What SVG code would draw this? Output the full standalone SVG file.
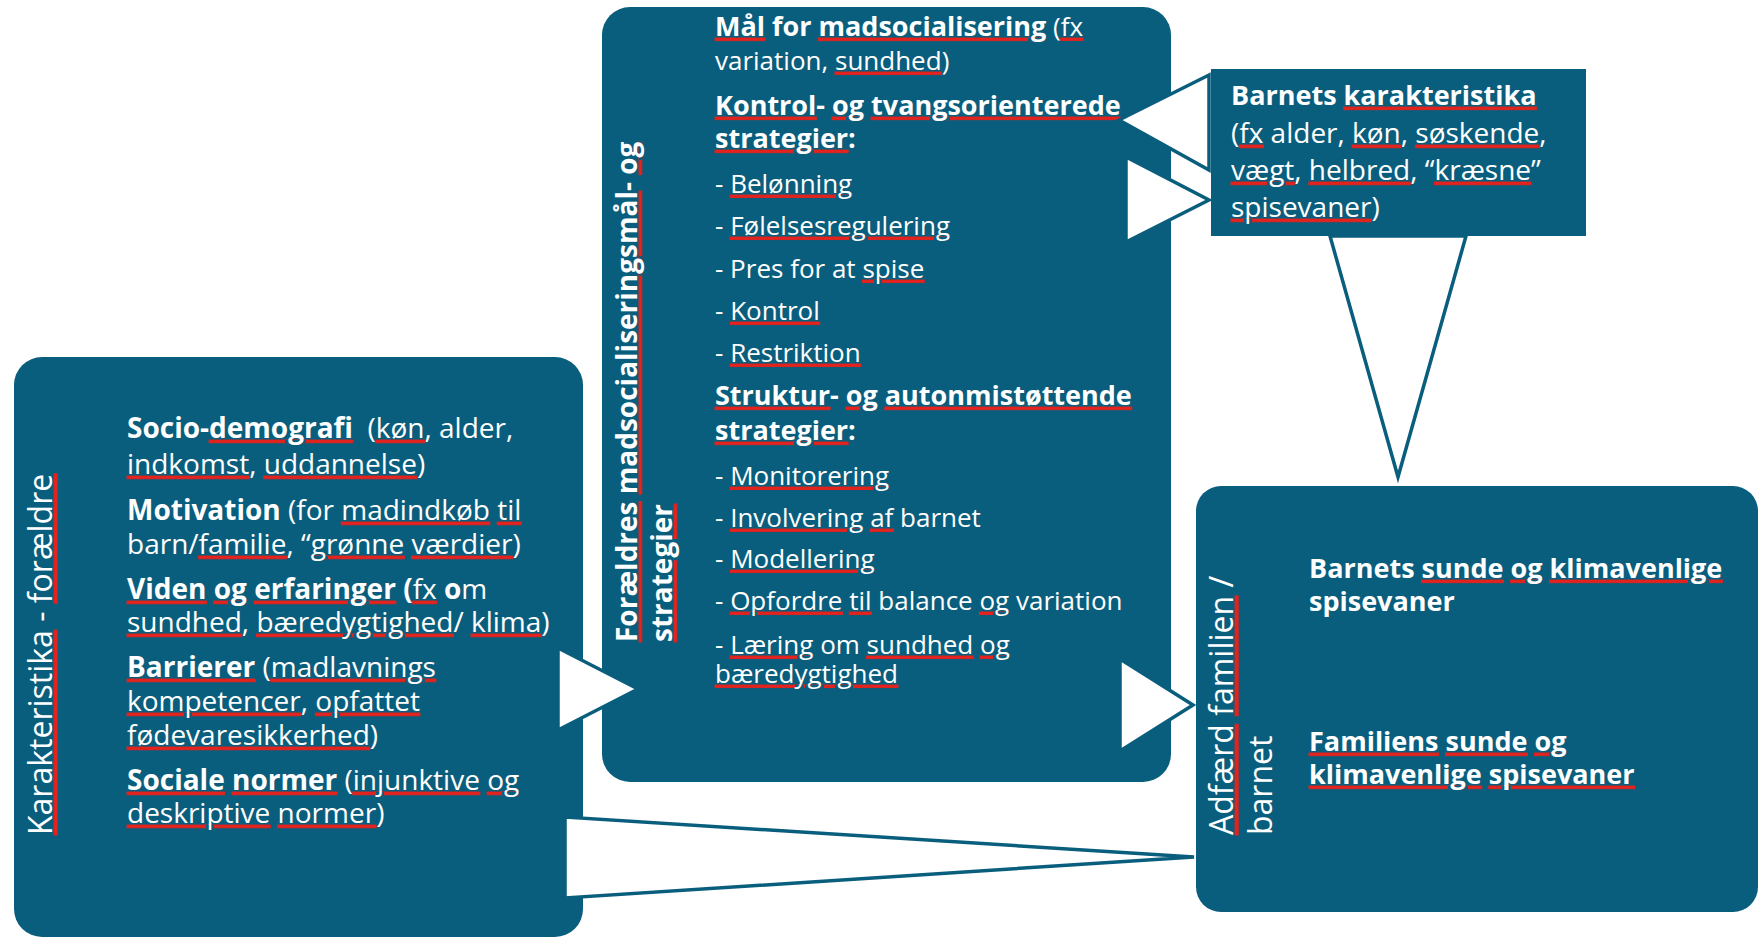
<svg xmlns="http://www.w3.org/2000/svg" width="1760" height="938" viewBox="0 0 1760 938">
<style>
  .box { fill: #0a5e7d; }
  .t { fill: #ffffff; font-family: "Open Sans", "Liberation Sans", sans-serif; }
  .b { font-weight: 700; }
  .u { fill: #e3231e; stroke: #e3231e; stroke-width: 0.9; text-decoration: underline; }
  .w { fill: #ffffff; stroke: none; }
  .conn { fill: #ffffff; stroke: #0a5e7d; stroke-width: 3.5; stroke-linejoin: miter; }
  .f28 { font-size: 28px; }
  .f27 { font-size: 27px; }
  .f26 { font-size: 26px; }
  .f32 { font-size: 32px; }
</style>
<rect width="1760" height="938" fill="#ffffff"/>

<g id="node-parents">
  <rect class="box" x="14" y="357" width="569" height="580" rx="28"/>
  <text class="t f32" transform="translate(52,835) rotate(-90)"><tspan class="u"><tspan class="w">Karakteristika</tspan></tspan> - <tspan class="u"><tspan class="w">forældre</tspan></tspan></text>
  <text class="t f28" x="127" y="438"><tspan class="b">Socio-</tspan><tspan class="b u"><tspan class="w">demografi</tspan></tspan>&#160; (<tspan class="u"><tspan class="w">køn</tspan></tspan>, alder,</text>
  <text class="t f28" x="127" y="474"><tspan class="u"><tspan class="w">indkomst</tspan></tspan>, <tspan class="u"><tspan class="w">uddannelse</tspan></tspan>)</text>
  <text class="t f28" x="127" y="520"><tspan class="b">Motivation</tspan> (for <tspan class="u"><tspan class="w">madindkøb</tspan></tspan> <tspan class="u"><tspan class="w">til</tspan></tspan></text>
  <text class="t f28" x="127" y="554">barn/<tspan class="u"><tspan class="w">familie</tspan></tspan>, “<tspan class="u"><tspan class="w">grønne</tspan></tspan> <tspan class="u"><tspan class="w">værdier</tspan></tspan>)</text>
  <text class="t f28" x="127" y="599"><tspan class="b u"><tspan class="w">Viden</tspan></tspan><tspan class="b"> </tspan><tspan class="b u"><tspan class="w">og</tspan></tspan><tspan class="b"> </tspan><tspan class="b u"><tspan class="w">erfaringer</tspan></tspan><tspan class="b"> (</tspan><tspan class="u"><tspan class="w">fx</tspan></tspan> <tspan class="b">o</tspan>m</text>
  <text class="t f28" x="127" y="632"><tspan class="u"><tspan class="w">sundhed</tspan></tspan>, <tspan class="u"><tspan class="w">bæredygtighed</tspan></tspan>/ <tspan class="u"><tspan class="w">klima</tspan></tspan>)</text>
  <text class="t f28" x="127" y="677"><tspan class="b u"><tspan class="w">Barrierer</tspan></tspan> (<tspan class="u"><tspan class="w">madlavnings</tspan></tspan></text>
  <text class="t f28" x="127" y="711"><tspan class="u"><tspan class="w">kompetencer</tspan></tspan>, <tspan class="u"><tspan class="w">opfattet</tspan></tspan></text>
  <text class="t f28" x="127" y="745"><tspan class="u"><tspan class="w">fødevaresikkerhed</tspan></tspan>)</text>
  <text class="t f28" x="127" y="790"><tspan class="b u"><tspan class="w">Sociale</tspan></tspan><tspan class="b"> </tspan><tspan class="b u"><tspan class="w">normer</tspan></tspan> (<tspan class="u"><tspan class="w">injunktive</tspan></tspan> <tspan class="u"><tspan class="w">og</tspan></tspan></text>
  <text class="t f28" x="127" y="823"><tspan class="u"><tspan class="w">deskriptive</tspan></tspan> <tspan class="u"><tspan class="w">normer</tspan></tspan>)</text>
</g>

<g id="node-strategies">
  <rect class="box" x="602" y="7" width="569" height="775" rx="28"/>
  <text class="t f28 b" transform="translate(637,642) rotate(-90)"><tspan class="u"><tspan class="w">Forældres</tspan></tspan> <tspan class="u"><tspan class="w">madsocialiseringsmål</tspan></tspan>- <tspan class="u"><tspan class="w">og</tspan></tspan><tspan x="0" dy="35" class="u"><tspan class="w">strategier</tspan></tspan></text>
  <text class="t f26" x="715" y="36"><tspan class="b u f27"><tspan class="w">Mål</tspan></tspan><tspan class="b f27"> for </tspan><tspan class="b u f27"><tspan class="w">madsocialisering</tspan></tspan> (<tspan class="u"><tspan class="w">fx</tspan></tspan></text>
  <text class="t f26" x="715" y="70">variation, <tspan class="u"><tspan class="w">sundhed</tspan></tspan>)</text>
  <text class="t f27 b" x="715" y="115"><tspan class="u"><tspan class="w">Kontrol</tspan></tspan>- <tspan class="u"><tspan class="w">og</tspan></tspan> <tspan class="u"><tspan class="w">tvangsorienterede</tspan></tspan></text>
  <text class="t f27 b" x="715" y="148"><tspan class="u"><tspan class="w">strategier</tspan></tspan>:</text>
  <text class="t f26" x="715" y="193">- <tspan class="u"><tspan class="w">Belønning</tspan></tspan></text>
  <text class="t f26" x="715" y="235">- <tspan class="u"><tspan class="w">Følelsesregulering</tspan></tspan></text>
  <text class="t f26" x="715" y="278">- Pres for at <tspan class="u"><tspan class="w">spise</tspan></tspan></text>
  <text class="t f26" x="715" y="320">- <tspan class="u"><tspan class="w">Kontrol</tspan></tspan></text>
  <text class="t f26" x="715" y="362">- <tspan class="u"><tspan class="w">Restriktion</tspan></tspan></text>
  <text class="t f27 b" x="715" y="405"><tspan class="u"><tspan class="w">Struktur</tspan></tspan>- <tspan class="u"><tspan class="w">og</tspan></tspan> <tspan class="u"><tspan class="w">autonmistøttende</tspan></tspan></text>
  <text class="t f27 b" x="715" y="440"><tspan class="u"><tspan class="w">strategier</tspan></tspan>:</text>
  <text class="t f26" x="715" y="485">- <tspan class="u"><tspan class="w">Monitorering</tspan></tspan></text>
  <text class="t f26" x="715" y="527">- <tspan class="u"><tspan class="w">Involvering</tspan></tspan> <tspan class="u"><tspan class="w">af</tspan></tspan> barnet</text>
  <text class="t f26" x="715" y="568">- <tspan class="u"><tspan class="w">Modellering</tspan></tspan></text>
  <text class="t f26" x="715" y="610">- <tspan class="u"><tspan class="w">Opfordre</tspan></tspan> <tspan class="u"><tspan class="w">til</tspan></tspan> balance <tspan class="u"><tspan class="w">og</tspan></tspan> variation</text>
  <text class="t f26" x="715" y="654">- <tspan class="u"><tspan class="w">Læring</tspan></tspan> om <tspan class="u"><tspan class="w">sundhed</tspan></tspan> <tspan class="u"><tspan class="w">og</tspan></tspan></text>
  <text class="t f26" x="715" y="683"><tspan class="u"><tspan class="w">bæredygtighed</tspan></tspan></text>
</g>

<g id="node-child">
  <rect class="box" x="1211" y="69" width="375" height="167"/>
  <text class="t f27 b" x="1231" y="105">Barnets <tspan class="u"><tspan class="w">karakteristika</tspan></tspan></text>
  <text class="t f28" x="1231" y="143">(<tspan class="u"><tspan class="w">fx</tspan></tspan> alder, <tspan class="u"><tspan class="w">køn</tspan></tspan>, <tspan class="u"><tspan class="w">søskende</tspan></tspan>,</text>
  <text class="t f28" x="1231" y="180"><tspan class="u"><tspan class="w">vægt</tspan></tspan>, <tspan class="u"><tspan class="w">helbred</tspan></tspan>, “<tspan class="u"><tspan class="w">kræsne</tspan></tspan>”</text>
  <text class="t f28" x="1231" y="217"><tspan class="u"><tspan class="w">spisevaner</tspan></tspan>)</text>
</g>

<g id="node-behaviour">
  <rect class="box" x="1196" y="486" width="562" height="426" rx="25"/>
  <text class="t f32" transform="translate(1233,835) rotate(-90)"><tspan class="u"><tspan class="w">Adfærd</tspan></tspan> <tspan class="u"><tspan class="w">familien</tspan></tspan> /<tspan x="0" dy="39">barnet</tspan></text>
  <text class="t f27 b" x="1309" y="578">Barnets <tspan class="u"><tspan class="w">sunde</tspan></tspan> <tspan class="u"><tspan class="w">og</tspan></tspan> <tspan class="u"><tspan class="w">klimavenlige</tspan></tspan></text>
  <text class="t f27 b" x="1309" y="611">spisevaner</text>
  <text class="t f27 b" x="1309" y="751"><tspan class="u"><tspan class="w">Familiens</tspan></tspan> <tspan class="u"><tspan class="w">sunde</tspan></tspan> <tspan class="u"><tspan class="w">og</tspan></tspan></text>
  <text class="t f27 b" x="1309" y="784"><tspan class="u"><tspan class="w">klimavenlige</tspan></tspan> <tspan class="u"><tspan class="w">spisevaner</tspan></tspan></text>
</g>

<g id="connectors">
  <polygon class="conn" points="558,648 558,730 638,689"/>
  <polygon class="conn" points="1120,659 1120,751 1193,705"/>
  <polygon class="conn" points="565,817 565,898 1194,857"/>
  <polygon class="conn" points="1209,75 1209,170 1119,120"/>
  <polygon class="conn" points="1126,157 1126,242 1209,200"/>
  <polygon class="conn" points="1330,236 1466,236 1398,477"/>
</g>
</svg>
